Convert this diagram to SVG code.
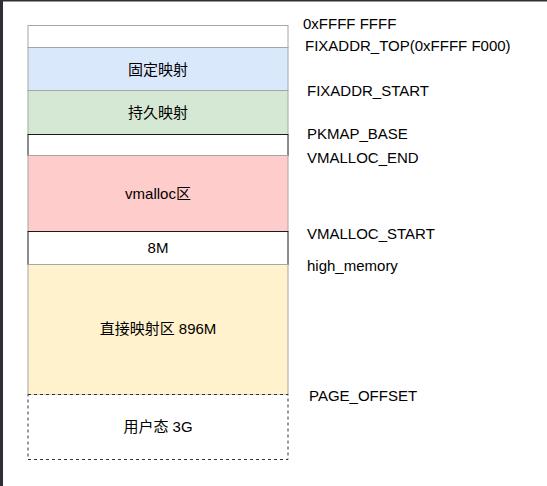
<svg xmlns="http://www.w3.org/2000/svg" width="547" height="486" viewBox="0 0 547 486">
<style>
text{font-family:"Liberation Sans","Noto Sans CJK SC",Arial,sans-serif;font-size:15px;fill:#000}
.c{text-anchor:middle}
.g{stroke:#a6a6a6;stroke-width:1}
.k{stroke:#1a1a1a;stroke-width:1}
</style>
<rect width="547" height="486" fill="#fff"/>
<rect x="0" y="0" width="547" height="1.5" fill="#2d3135"/>
<rect x="0" y="0" width="3" height="486" fill="#2d3135"/>
<g id="top"><rect class="g" x="28" y="25.5" width="260" height="22" fill="#fff"/></g>
<g id="fixmap"><rect class="g" x="28" y="47.5" width="260" height="43" fill="#dae8fc"/><text class="c" x="158" y="75">固定映射</text></g>
<g id="pkmap"><rect class="g" x="28" y="90.5" width="260" height="44" fill="#d5e8d4"/><text class="c" x="158" y="118">持久映射</text></g>
<g id="gap1"><rect class="k" x="28" y="134.5" width="260" height="21" fill="#fff"/></g>
<g id="vmalloc"><rect class="g" x="28" y="155.5" width="260" height="76" fill="#ffcccc"/><text class="c" x="158" y="199">vmalloc区</text></g>
<g id="gap8m"><rect class="k" x="28" y="231.5" width="260" height="33" fill="#fff"/><text class="c" x="158" y="253">8M</text></g>
<g id="direct"><rect class="g" x="28" y="264.5" width="260" height="130" fill="#fff2cc"/><text class="c" x="158" y="334">直接映射区 896M</text></g>
<g id="user"><rect x="28" y="394.5" width="260" height="65" fill="#fff" stroke="#333" stroke-dasharray="3 3"/><text class="c" x="158" y="432">用户态 3G</text></g>
<g id="labels">
<text x="303" y="29">0xFFFF FFFF</text>
<text x="305" y="51">FIXADDR_TOP(0xFFFF F000)</text>
<text x="307" y="96">FIXADDR_START</text>
<text x="307" y="139">PKMAP_BASE</text>
<text x="307" y="163">VMALLOC_END</text>
<text x="307" y="239">VMALLOC_START</text>
<text x="307" y="271">high_memory</text>
<text x="309" y="401">PAGE_OFFSET</text>
</g>
</svg>
